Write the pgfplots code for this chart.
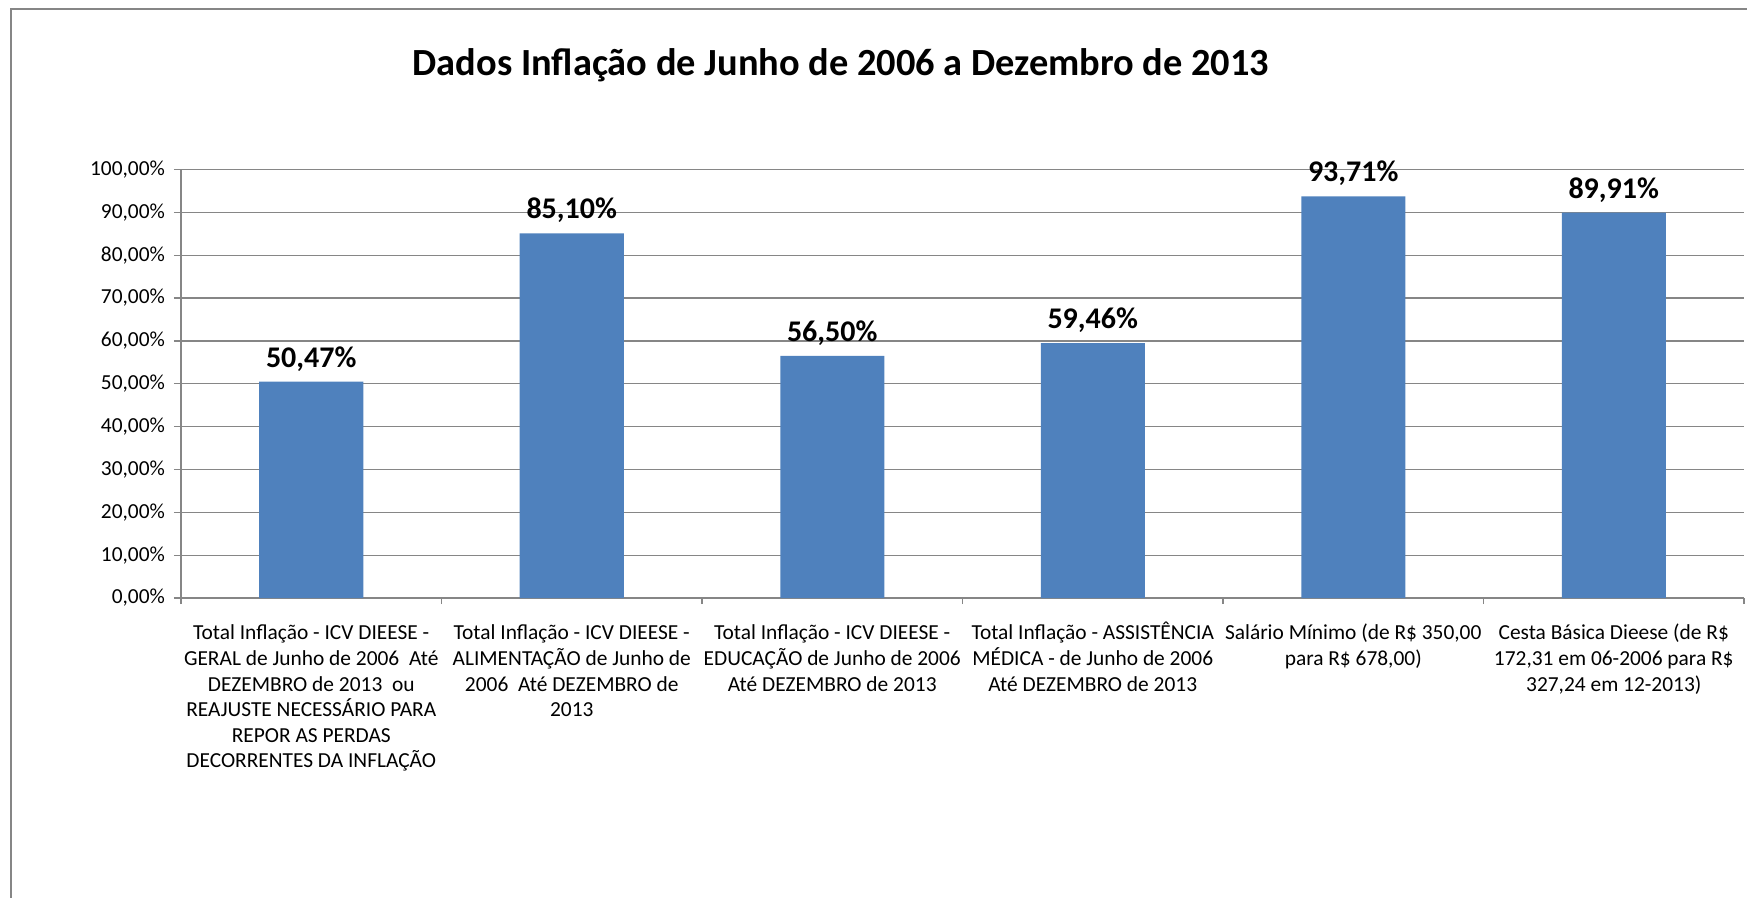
\documentclass[border=0pt]{standalone}
\usepackage{pgfplots}
\pgfplotsset{compat=1.18}
\usepackage{pgfplotstable}
\usepackage{fontspec}
\setmainfont{Carlito}
\definecolor{barblue}{HTML}{4F81BD}
\definecolor{gridgray}{HTML}{868686}
\newcommand{\fl}{\rule{0pt}{9.6pt}}
\pgfplotstableread{
x y lab
0 50.47 50,47\%
1 85.10 85,10\%
2 56.50 56,50\%
3 59.46 59,46\%
4 93.71 93,71\%
5 89.91 89,91\%
}\datatable
\begin{document}
\begin{tikzpicture}
\useasboundingbox (0,0) rectangle (873.5pt,-449pt);
\draw[gridgray, line width=1pt] (5.5pt,-460pt) -- (5.5pt,-4.5pt) -- (880pt,-4.5pt);
\node[font=\bfseries\fontsize{19.2}{22}\selectfont, anchor=base] at (420.5pt,-38pt) {Dados Inflação de Junho de 2006 a Dezembro de 2013};
\begin{axis}[
  at={(90.5pt,-299pt)}, anchor=south west,
  scale only axis, width=781.5pt, height=214.25pt,
  xmin=-0.5, xmax=5.5, ymin=0, ymax=100,
  axis lines*=left,
  axis line style={gridgray, line width=0.65pt},
  ymajorgrids, grid style={gridgray, line width=0.65pt},
  ytick={0,10,...,100},
  yticklabels={{0,00\%},{10,00\%},{20,00\%},{30,00\%},{40,00\%},{50,00\%},{60,00\%},{70,00\%},{80,00\%},{90,00\%},{100,00\%}},
  yticklabel style={font=\fontsize{10.7}{12.8}\selectfont, xshift=-1pt},
  ytick style={gridgray, line width=0.65pt},
  tick align=outside, major tick length=3.5pt,
  xtick={0,1,2,3,4,5},
  xticklabels={
    {\fl Total Inflação - ICV DIEESE -\\GERAL de Junho de 2006~ Até\\DEZEMBRO de 2013~ ou\\REAJUSTE NECESSÁRIO PARA\\REPOR AS PERDAS\\DECORRENTES DA INFLAÇÃO},
    {\fl Total Inflação - ICV DIEESE -\\ALIMENTAÇÃO de Junho de\\2006~ Até DEZEMBRO de\\2013},
    {\fl Total Inflação - ICV DIEESE -\\EDUCAÇÃO de Junho de 2006\\Até DEZEMBRO de 2013},
    {\fl Total Inflação - ASSISTÊNCIA\\MÉDICA - de Junho de 2006\\Até DEZEMBRO de 2013},
    {\fl Salário Mínimo (de R\$ 350,00\\para R\$ 678,00)},
    {\fl Cesta Básica Dieese (de R\$\\172,31 em 06-2006 para R\$\\327,24 em 12-2013)}},
  xticklabel style={font=\fontsize{10.7}{12.8}\selectfont, align=center, anchor=north, yshift=-4.3pt},
  x tick style={draw=none},
  extra x ticks={-0.5,0.5,1.5,2.5,3.5,4.5,5.5},
  extra x tick labels={},
  extra x tick style={grid=none, x tick style={draw=gridgray, line width=0.65pt}, major tick length=3pt},
  clip=false,
]
\addplot[ybar, bar width=52pt, fill=barblue, draw=none,
  point meta=explicit symbolic,
  nodes near coords,
  nodes near coords style={font=\bfseries\fontsize{15}{17}\selectfont, anchor=base, yshift=7.3pt, text=black}]
  table[x=x, y=y, meta=lab] {\datatable};
\end{axis}
\end{tikzpicture}
\end{document}
